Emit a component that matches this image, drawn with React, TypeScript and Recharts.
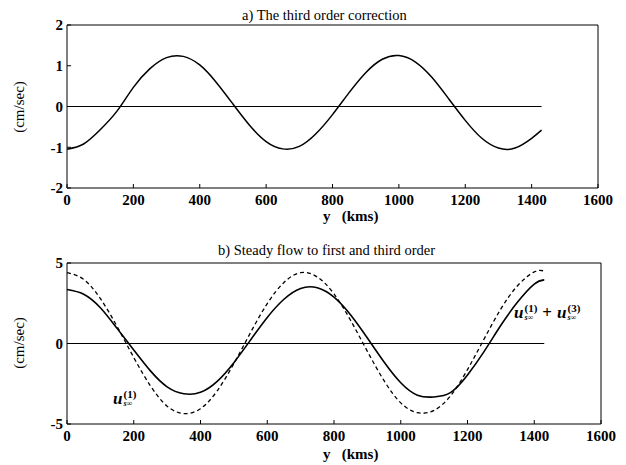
import React from "react";
import {
  LineChart,
  Line,
  XAxis,
  YAxis,
  ReferenceLine,
} from "recharts";

// distance along y (kms)
const yKm = [
  0, 50, 100, 150, 200, 250, 300, 350, 400, 450, 500, 550, 600, 650, 700,
  750, 800, 850, 900, 950, 1000, 1050, 1100, 1150, 1200, 1250, 1300, 1350,
  1400, 1430,
];

// a) third order correction (cm/sec)
const thirdOrder = [
  -1.05, -0.92, -0.57, -0.12, 0.47, 0.93, 1.2, 1.23, 1.02, 0.59, 0.06, -0.46,
  -0.86, -1.04, -0.98, -0.67, -0.2, 0.34, 0.83, 1.16, 1.25, 1.09, 0.71, 0.19,
  -0.34, -0.78, -1.02, -1.02, -0.78, -0.58,
];

// b) first order steady flow (dashed)
const firstOrder = [
  4.4, 3.98, 2.79, 1.06, -0.87, -2.63, -3.89, -4.35, -4.05, -2.94, -1.25,
  0.68, 2.48, 3.79, 4.4, 4.13, 3.08, 1.43, -0.49, -2.31, -3.69, -4.3, -4.15,
  -3.23, -1.62, 0.29, 2.15, 3.59, 4.45, 4.5,
];

// b) first + third order (solid)
const firstPlusThird = [
  3.35, 3.06, 2.22, 0.94, -0.4, -1.7, -2.69, -3.12, -3.03, -2.35, -1.19,
  0.22, 1.62, 2.75, 3.42, 3.46, 2.88, 1.77, 0.34, -1.15, -2.44, -3.21, -3.32,
  -3.04, -1.96, -0.49, 1.13, 2.57, 3.69, 3.95,
];

const xTicks = [0, 200, 400, 600, 800, 1000, 1200, 1400, 1600];
const topYTicks = [-2, -1, 0, 1, 2];
const bottomYTicks = [-5, 0, 5];

const rowsA = yKm.map((y, i) => ({ y, u3: thirdOrder[i] }));
const rowsB = yKm.map((y, i) => ({
  y,
  u1: firstOrder[i],
  u13: firstPlusThird[i],
}));

const FONT = "'Liberation Serif', 'Times New Roman', serif";
const tickStyle = { fontSize: 15, fill: "#000", fontFamily: FONT, fontWeight: 700 };
const lineStroke = "#000";

function Frame({ yTicks, yDomain }: { yTicks: number[]; yDomain: [number, number] }) {
  return (
    <>
      <XAxis
        xAxisId="b"
        dataKey="y"
        type="number"
        domain={[0, 1600]}
        ticks={xTicks}
        tick={tickStyle}
        tickSize={-4}
        tickMargin={10}
        height={30}
        stroke={lineStroke}
        interval={0}
      />
      <XAxis
        xAxisId="t"
        orientation="top"
        dataKey="y"
        type="number"
        domain={[0, 1600]}
        ticks={xTicks}
        tick={false}
        tickSize={-4}
        height={1}
        stroke={lineStroke}
      />
      <YAxis
        yAxisId="l"
        type="number"
        domain={yDomain}
        ticks={yTicks}
        tick={tickStyle}
        tickSize={-4}
        tickMargin={8}
        width={50}
        stroke={lineStroke}
        interval={0}
      />
      <YAxis
        yAxisId="r"
        orientation="right"
        type="number"
        domain={yDomain}
        ticks={yTicks}
        tick={false}
        tickSize={-4}
        width={1}
        stroke={lineStroke}
      />
    </>
  );
}

const textBase: React.CSSProperties = {
  position: "absolute",
  fontFamily: FONT,
  color: "#000",
  whiteSpace: "nowrap",
  lineHeight: 1,
};

function U({ n }: { n: number }) {
  return (
    <span style={{ display: "inline-flex", alignItems: "center" }}>
      <i style={{ fontSize: 17 }}>u</i>
      <span
        style={{
          display: "inline-flex",
          flexDirection: "column",
          fontSize: 11,
          lineHeight: 1,
          marginLeft: 1,
        }}
      >
        <span>({n})</span>
        <i style={{ fontSize: 8 }}>s∞</i>
      </span>
    </span>
  );
}

export default function App() {
  return (
    <div
      style={{
        position: "absolute",
        left: 0,
        top: 0,
        width: 626,
        height: 465,
        background: "#fff",
        overflow: "hidden",
      }}
    >
      <div style={{ position: "absolute", left: 0, top: 0 }}>
        <LineChart
          width={626}
          height={232}
          data={rowsA}
          margin={{ top: 24, right: 27, left: 17, bottom: 14 }}
        >
          {Frame({ yTicks: topYTicks, yDomain: [-2, 2] })}
          <ReferenceLine
            xAxisId="b"
            yAxisId="l"
            segment={[
              { x: 0, y: 0 },
              { x: 1430, y: 0 },
            ]}
            stroke={lineStroke}
            strokeWidth={1.2}
          />
          <Line
            xAxisId="b"
            yAxisId="l"
            type="natural"
            dataKey="u3"
            stroke={lineStroke}
            strokeWidth={1.5}
            dot={false}
            isAnimationActive={false}
          />
        </LineChart>
      </div>
      <div style={{ position: "absolute", left: 0, top: 232 }}>
        <LineChart
          width={626}
          height={233}
          data={rowsB}
          margin={{ top: 30, right: 24, left: 17, bottom: 11 }}
        >
          {Frame({ yTicks: bottomYTicks, yDomain: [-5, 5] })}
          <ReferenceLine
            xAxisId="b"
            yAxisId="l"
            segment={[
              { x: 0, y: 0 },
              { x: 1430, y: 0 },
            ]}
            stroke={lineStroke}
            strokeWidth={1.2}
          />
          <Line
            xAxisId="b"
            yAxisId="l"
            type="natural"
            dataKey="u1"
            stroke={lineStroke}
            strokeWidth={1.3}
            strokeDasharray="4 3"
            dot={false}
            isAnimationActive={false}
          />
          <Line
            xAxisId="b"
            yAxisId="l"
            type="natural"
            dataKey="u13"
            stroke={lineStroke}
            strokeWidth={1.6}
            dot={false}
            isAnimationActive={false}
          />
        </LineChart>
      </div>

      <div style={{ ...textBase, left: 242, top: 8, fontSize: 14.5 }}>
        a) The third order correction
      </div>
      <div style={{ ...textBase, left: 218, top: 243, fontSize: 14.5 }}>
        b) Steady flow to first and third order
      </div>

      <div style={{ ...textBase, left: 323, top: 209, fontSize: 15, fontWeight: 700 }}>
        y&nbsp;&nbsp;&nbsp;(kms)
      </div>
      <div style={{ ...textBase, left: 323, top: 447, fontSize: 15, fontWeight: 700 }}>
        y&nbsp;&nbsp;&nbsp;(kms)
      </div>

      <div
        style={{
          ...textBase,
          left: 19,
          top: 107,
          fontSize: 15,
          transform: "translate(-50%, -50%) rotate(-90deg)",
        }}
      >
        (cm/sec)
      </div>
      <div
        style={{
          ...textBase,
          left: 19,
          top: 343,
          fontSize: 15,
          transform: "translate(-50%, -50%) rotate(-90deg)",
        }}
      >
        (cm/sec)
      </div>

      <div style={{ ...textBase, left: 113, top: 389, fontWeight: 700 }}>
        <U n={1} />
      </div>
      <div style={{ ...textBase, left: 514, top: 303, fontWeight: 700, display: "flex", alignItems: "center" }}>
        <U n={1} />
        <span style={{ fontSize: 17, margin: "0 5px" }}>+</span>
        <U n={3} />
      </div>
    </div>
  );
}
